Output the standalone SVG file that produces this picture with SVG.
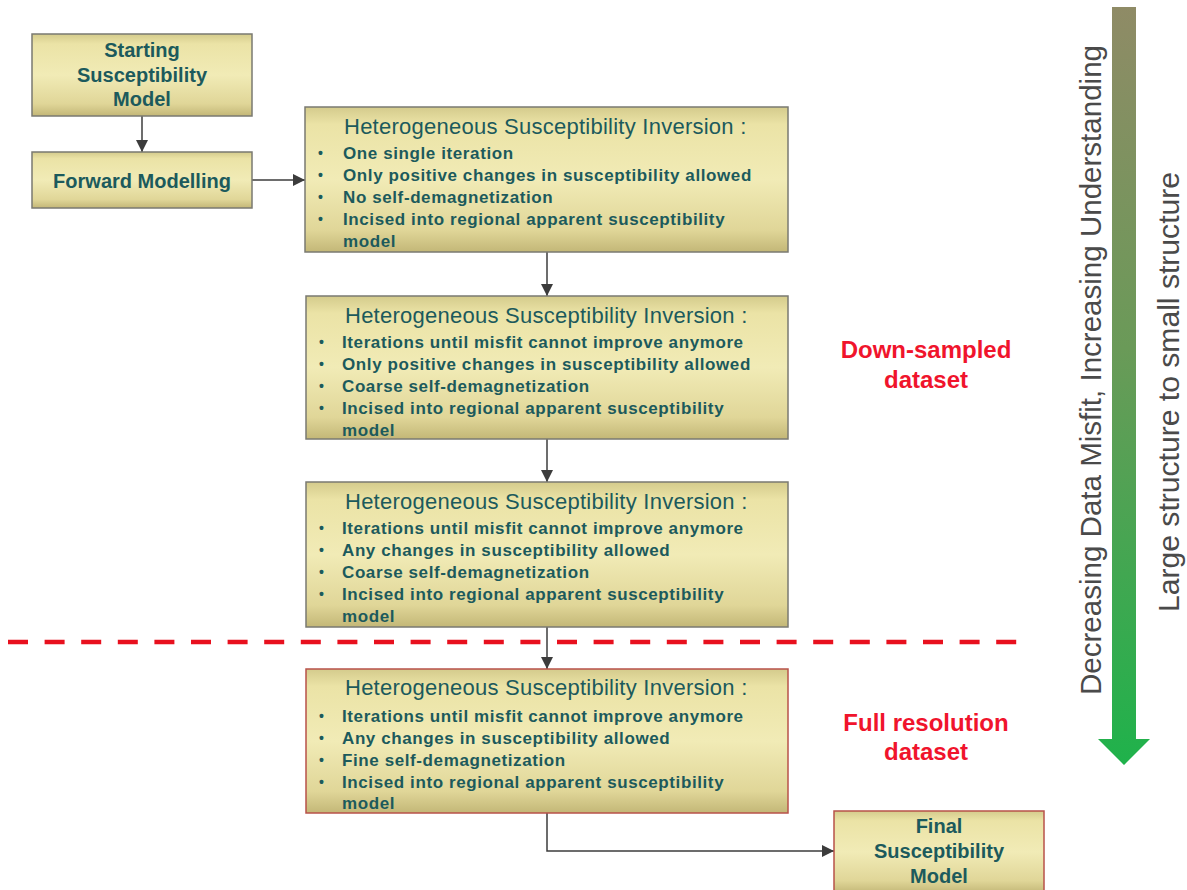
<svg xmlns="http://www.w3.org/2000/svg" width="1187" height="890" viewBox="0 0 1187 890">
<defs>
<linearGradient id="boxg" x1="0" y1="0" x2="0" y2="1">
<stop offset="0" stop-color="#d4cb8c"/>
<stop offset="0.12" stop-color="#ebe3a6"/>
<stop offset="0.5" stop-color="#f1ebb6"/>
<stop offset="0.85" stop-color="#e0d698"/>
<stop offset="1" stop-color="#c3b777"/>
</linearGradient>
<linearGradient id="greeng" x1="0" y1="0" x2="0" y2="1">
<stop offset="0" stop-color="#8f8b66"/>
<stop offset="0.45" stop-color="#6a9a58"/>
<stop offset="1" stop-color="#1fb24b"/>
</linearGradient>
<marker id="ah" viewBox="0 0 12 12" refX="12" refY="6" markerWidth="12" markerHeight="12" markerUnits="userSpaceOnUse" orient="auto">
<path d="M0,0 L12,6 L0,12 Z" fill="#3c3c3c"/>
</marker>
<style>
.box{fill:url(#boxg);stroke:#7a7a72;stroke-width:1.5}
.boxr{fill:url(#boxg);stroke:#b8524a;stroke-width:1.5}
.t{font-family:"Liberation Sans",Arial,sans-serif;fill:#1c5a5c}
.c{font-size:20px;font-weight:bold;text-anchor:middle}
.h{font-size:22px;letter-spacing:0.25px}
.b{font-size:17px;font-weight:bold;letter-spacing:0.6px}
.d{font-size:14px;font-weight:bold}
.red{font-family:"Liberation Sans",Arial,sans-serif;fill:#f0142c;font-size:24px;font-weight:bold;text-anchor:middle}
.side{font-family:"Liberation Sans",Arial,sans-serif;fill:#4a4a4a;font-size:29px;text-anchor:middle}
.conn{fill:none;stroke:#3c3c3c;stroke-width:1.5}
</style>
</defs>
<rect width="1187" height="890" fill="#ffffff"/>

<g id="connectors">
<line class="conn" x1="142" y1="116" x2="142" y2="152" marker-end="url(#ah)"/>
<line class="conn" x1="252" y1="180" x2="305" y2="180" marker-end="url(#ah)"/>
<line class="conn" x1="547" y1="252" x2="547" y2="296" marker-end="url(#ah)"/>
<line class="conn" x1="547" y1="439" x2="547" y2="482" marker-end="url(#ah)"/>
<line class="conn" x1="547" y1="627" x2="547" y2="669" marker-end="url(#ah)"/>
<polyline class="conn" points="547,813 547,851 834,851" marker-end="url(#ah)"/>
</g>

<g id="divider">
<line x1="8" y1="642" x2="1018" y2="642" stroke="#e8101e" stroke-width="4.5" stroke-dasharray="20 16.6"/>
</g>

<g id="start">
<rect class="box" x="32" y="34" width="220" height="82"/>
<text class="t c" x="142" y="57">Starting</text>
<text class="t c" x="142" y="82">Susceptibility</text>
<text class="t c" x="142" y="106">Model</text>
</g>

<g id="forward">
<rect class="box" x="32" y="152" width="220" height="56"/>
<text class="t c" x="142" y="188">Forward Modelling</text>
</g>

<g id="inv1">
<rect class="box" x="305" y="107" width="483" height="145"/>
<text class="t h" x="344" y="134">Heterogeneous Susceptibility Inversion :</text>
<text class="t d" x="318" y="158">•</text>
<text class="t b" x="343" y="159">One single iteration</text>
<text class="t d" x="318" y="180">•</text>
<text class="t b" x="343" y="181">Only positive changes in susceptibility allowed</text>
<text class="t d" x="318" y="202">•</text>
<text class="t b" x="343" y="203">No self-demagnetization</text>
<text class="t d" x="318" y="224">•</text>
<text class="t b" x="343" y="225">Incised into regional apparent susceptibility</text>
<text class="t b" x="343" y="247">model</text>
</g>

<g id="inv2">
<rect class="box" x="306" y="296" width="482" height="143"/>
<text class="t h" x="345" y="323">Heterogeneous Susceptibility Inversion :</text>
<text class="t d" x="319" y="347">•</text>
<text class="t b" x="342" y="348">Iterations until misfit cannot improve anymore</text>
<text class="t d" x="319" y="369">•</text>
<text class="t b" x="342" y="370">Only positive changes in susceptibility allowed</text>
<text class="t d" x="319" y="391">•</text>
<text class="t b" x="342" y="392">Coarse self-demagnetization</text>
<text class="t d" x="319" y="413">•</text>
<text class="t b" x="342" y="414">Incised into regional apparent susceptibility</text>
<text class="t b" x="342" y="436">model</text>
</g>

<g id="inv3">
<rect class="box" x="306" y="482" width="482" height="145"/>
<text class="t h" x="345" y="509">Heterogeneous Susceptibility Inversion :</text>
<text class="t d" x="319" y="533">•</text>
<text class="t b" x="342" y="534">Iterations until misfit cannot improve anymore</text>
<text class="t d" x="319" y="555">•</text>
<text class="t b" x="342" y="556">Any changes in susceptibility allowed</text>
<text class="t d" x="319" y="577">•</text>
<text class="t b" x="342" y="578">Coarse self-demagnetization</text>
<text class="t d" x="319" y="599">•</text>
<text class="t b" x="342" y="600">Incised into regional apparent susceptibility</text>
<text class="t b" x="342" y="622">model</text>
</g>

<g id="inv4">
<rect class="boxr" x="306" y="669" width="482" height="144"/>
<text class="t h" x="345" y="695">Heterogeneous Susceptibility Inversion :</text>
<text class="t d" x="319" y="721">•</text>
<text class="t b" x="342" y="722">Iterations until misfit cannot improve anymore</text>
<text class="t d" x="319" y="743">•</text>
<text class="t b" x="342" y="744">Any changes in susceptibility allowed</text>
<text class="t d" x="319" y="765">•</text>
<text class="t b" x="342" y="766">Fine self-demagnetization</text>
<text class="t d" x="319" y="787">•</text>
<text class="t b" x="342" y="788">Incised into regional apparent susceptibility</text>
<text class="t b" x="342" y="809">model</text>
</g>

<g id="final">
<rect class="boxr" x="834" y="811" width="210" height="82"/>
<text class="t c" x="939" y="833">Final</text>
<text class="t c" x="939" y="858">Susceptibility</text>
<text class="t c" x="939" y="883">Model</text>
</g>

<g id="label-downsampled">
<text class="red" x="926" y="358">Down-sampled</text>
<text class="red" x="926" y="388">dataset</text>
</g>

<g id="label-fullres">
<text class="red" x="926" y="731">Full resolution</text>
<text class="red" x="926" y="760">dataset</text>
</g>

<g id="progress-arrow">
<polygon points="1112,7 1136,7 1136,739 1150,739 1124,765 1098,739 1112,739" fill="url(#greeng)"/>
<text class="side" transform="translate(1101,370) rotate(-90)" textLength="650" lengthAdjust="spacingAndGlyphs">Decreasing Data Misfit,  Increasing Understanding</text>
<text class="side" transform="translate(1179,392) rotate(-90)" textLength="440" lengthAdjust="spacingAndGlyphs">Large structure to small structure</text>
</g>
</svg>
